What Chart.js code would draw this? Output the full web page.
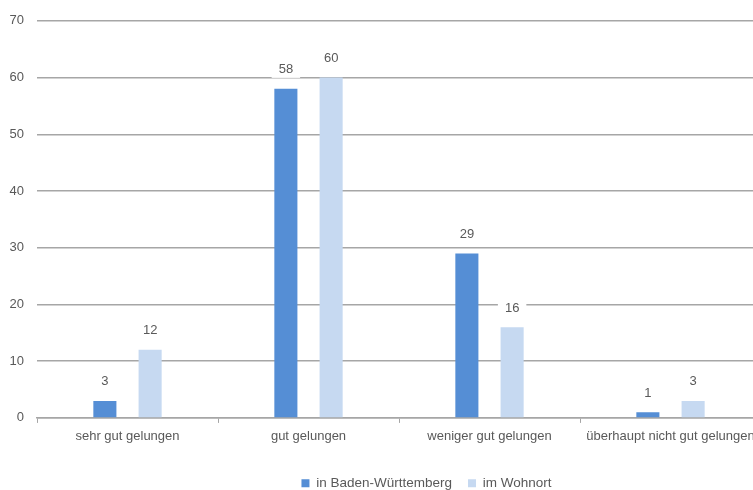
<!DOCTYPE html>
<html>
<head>
<meta charset="utf-8">
<script src="https://cdn.jsdelivr.net/npm/chart.js@4"></script>
<style>
html,body{margin:0;padding:0;overflow:hidden;background:#fff;}
canvas{display:block;}
</style>
</head>
<body>
<canvas id="c" width="850" height="490"></canvas>
<script>
const categories = ["sehr gut gelungen", "gut gelungen", "weniger gut gelungen", "überhaupt nicht gut gelungen"];
const seriesNames = ["in Baden-Württemberg", "im Wohnort"];
const badenWuerttemberg = [3, 58, 29, 1];
const wohnort = [12, 60, 16, 3];
const yTicks = [0, 10, 20, 30, 40, 50, 60, 70];

const FONT = "'Liberation Sans', Arial, sans-serif";
const TXT = "#595959";
const GRID = "#A6A6A6";

const labelPlugin = {
  id: 'valueLabels',
  afterLayout(chart) {
    const lg = chart.legend;
    if (lg) {
      lg.left += 46; lg.right += 46;
      lg.top += 10; lg.bottom += 10;
    }
  },
  afterDatasetsDraw(chart) {
    const ctx = chart.ctx;
    ctx.save();
    ctx.font = "13px " + FONT;
    ctx.textAlign = "center";
    ctx.textBaseline = "middle";
    chart.data.datasets.forEach((ds, di) => {
      const meta = chart.getDatasetMeta(di);
      meta.data.forEach((bar, i) => {
        const txt = String(ds.data[i]);
        const w = ctx.measureText(txt).width + 14;
        const cy = bar.y - 19;
        ctx.fillStyle = "#fff";
        ctx.fillRect(bar.x - w / 2, cy - 8, w, 16);
        ctx.fillStyle = TXT;
        ctx.fillText(txt, bar.x, cy);
      });
    });
    ctx.restore();
  }
};

new Chart(document.getElementById('c'), {
  type: 'bar',
  data: {
    labels: categories,
    datasets: [
      { label: seriesNames[0], data: badenWuerttemberg, backgroundColor: "#558ED5", categoryPercentage: 0.5, barPercentage: 0.51 },
      { label: seriesNames[1], data: wohnort, backgroundColor: "#C6D9F1", categoryPercentage: 0.5, barPercentage: 0.51 }
    ]
  },
  options: {
    responsive: false,
    animation: false,
    layout: { padding: { top: 11, right: 89, left: 0, bottom: 0 } },
    plugins: {
      legend: {
        position: 'bottom',
        labels: { font: { family: FONT, size: 13.5 }, color: TXT, boxWidth: 8, boxHeight: 8, padding: 16 }
      },
      tooltip: { enabled: false }
    },
    scales: {
      x: {
        grid: { drawOnChartArea: false, drawTicks: true, tickLength: 5, color: GRID, offset: true },
        border: { display: true, color: GRID, width: 1.5 },
        ticks: { font: { family: FONT, size: 13 }, color: TXT, maxRotation: 0, autoSkip: false, padding: 6 }
      },
      y: {
        min: 0, max: 70,
        afterBuildTicks(scale) { scale.ticks = yTicks.map(v => ({ value: v })); },
        afterFit(scale) { scale.width = 37; },
        grid: { drawTicks: false, color: GRID, lineWidth: 1.5 },
        border: { display: false },
        ticks: { font: { family: FONT, size: 13 }, color: TXT, padding: 13 }
      }
    }
  },
  plugins: [labelPlugin]
});
</script>
</body>
</html>
